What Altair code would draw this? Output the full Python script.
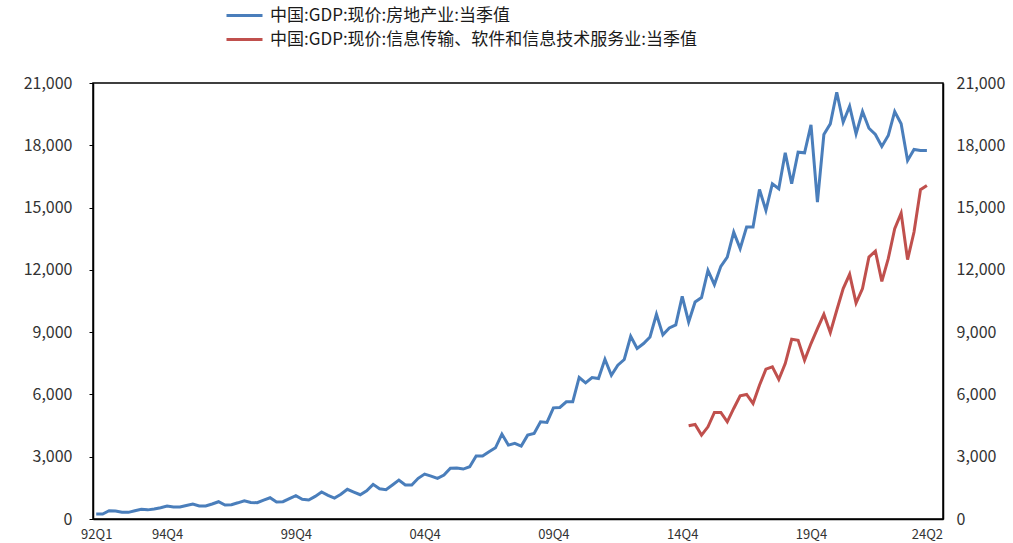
import altair as alt
import pandas as pd

# Quarterly categories 92Q1 .. 24Q2 (two empty slots follow on the axis)
START_YEAR = 1992
N_QUARTERS = 130
quarters = [f"{(START_YEAR + i // 4) % 100:02d}Q{i % 4 + 1}" for i in range(N_QUARTERS)]

name_re = "中国:GDP:现价:房地产业:当季值"
name_it = "中国:GDP:现价:信息传输、软件和信息技术服务业:当季值"

# 房地产业 当季值（亿元）, 92Q1 .. 24Q2
real_estate = [
    240, 240, 400, 390, 330, 320, 400, 467, 440, 480,
    544, 625, 577, 577, 650, 722, 625, 625, 722, 832,
    673, 690, 780, 880, 800, 784, 914, 1025, 818, 832,
    980, 1121, 950, 914, 1090, 1299, 1140, 1010, 1190, 1429,
    1300, 1169, 1360, 1669, 1457, 1410, 1640, 1876, 1635, 1635,
    1960, 2165, 2068, 1958, 2116, 2450, 2460, 2405, 2516, 3030,
    3030, 3237, 3430, 4089, 3559, 3641, 3511, 4040, 4122, 4680,
    4651, 5354, 5373, 5642, 5642, 6816, 6556, 6816, 6768, 7696,
    6926, 7407, 7682, 8802, 8211, 8451, 8769, 9860, 8870, 9200,
    9350, 10726, 9490, 10452, 10664, 11977, 11289, 12169, 12617, 13819,
    13021, 14060, 14060, 15873, 14863, 16147, 15907, 17638, 16147, 17667,
    17638, 18985, 15262, 18519, 19033, 20553, 19110, 19880, 18552, 19625,
    18822, 18519, 17941, 18470, 19625, 19033, 17268, 17797, 17749, 17749,
]

# 信息传输、软件和信息技术服务业 当季值（亿元）, 15Q1 .. 24Q2
info_start = "15Q1"
info_tech = [
    4488, 4555, 4040, 4440, 5132, 5132, 4680, 5325, 5930, 5998,
    5565, 6445, 7215, 7326, 6720, 7489, 8658, 8610, 7648, 8451,
    9173, 9860, 8980, 10053, 11097, 11785, 10404, 11097, 12617, 12905,
    11448, 12540, 13983, 14733, 12491, 13819, 15859, 16065,
]

tick_labels = ["92Q1", "94Q4", "99Q4", "04Q4", "09Q4", "14Q4", "19Q4", "24Q2"]
y_ticks = [0, 3000, 6000, 9000, 12000, 15000, 18000, 21000]

colors = ["#4a7ebb", "#c0504d"]

i0 = quarters.index(info_start)
df = pd.concat([
    pd.DataFrame({"idx": range(len(real_estate)),
                  "quarter": quarters[:len(real_estate)],
                  "series": name_re, "value": real_estate}),
    pd.DataFrame({"idx": range(i0, i0 + len(info_tech)),
                  "quarter": quarters[i0:i0 + len(info_tech)],
                  "series": name_it, "value": info_tech}),
], ignore_index=True)

FONT = "Noto Sans CJK SC"
label_array = "[" + ",".join(f"'{q}'" for q in quarters) + "]"

x_enc = alt.X(
    "idx:Q",
    scale=alt.Scale(domain=[-0.5, N_QUARTERS + 1.5], nice=False, zero=False),
    axis=alt.Axis(
        values=[quarters.index(t) for t in tick_labels],
        labelExpr=f"{label_array}[datum.value]",
        title=None, grid=False, ticks=False,
        domainColor="black", domainWidth=1.5,
        labelFont=FONT, labelFontSize=13, labelColor="#333333",
        labelPadding=9, labelAngle=0,
    ),
)

# Wide horizontal stroke as the legend swatch (path scaled by sqrt(size)/2)
color_enc = alt.Color(
    "series:N",
    scale=alt.Scale(domain=[name_re, name_it], range=colors),
    legend=alt.Legend(
        orient="none", legendX=143, legendY=-76, title=None,
        direction="vertical", symbolType="M-3,0H3", symbolSize=144,
        symbolStrokeWidth=3, labelFont=FONT, labelFontSize=17,
        labelColor="#1a1a1a", labelOffset=17, rowPadding=6,
        labelLimit=600,
    ),
)

y_scale = alt.Scale(domain=[0, 21000], nice=False, zero=True)

left = alt.Chart(df).transform_filter(
    alt.datum.series == name_re
).mark_line(strokeWidth=3).encode(
    x=x_enc,
    y=alt.Y("value:Q", scale=y_scale, axis=alt.Axis(
        orient="left", values=y_ticks, format=",.0f", title=None, grid=False,
        tickSize=4, tickColor="black", domainColor="black", domainWidth=1.5,
        labelFont=FONT, labelFontSize=16, labelColor="#333333", labelPadding=17,
    )),
    color=color_enc,
)

right = alt.Chart(df).transform_filter(
    alt.datum.series == name_it
).mark_line(strokeWidth=3).encode(
    x=x_enc,
    y=alt.Y("value:Q", scale=y_scale, axis=alt.Axis(
        orient="right", values=y_ticks, format=",.0f", title=None, grid=False,
        ticks=False, domainColor="black", domainWidth=1.5,
        labelFont=FONT, labelFontSize=16, labelColor="#333333", labelPadding=13,
    )),
    color=color_enc,
)

chart = alt.layer(left, right).resolve_scale(y="independent").properties(
    width=850,
    height=436,
    autosize="none",
    padding={"left": 93, "top": 83, "right": 70, "bottom": 24},
    background="white",
).configure_view(stroke="black", strokeWidth=1.5)

chart.save("out.html", embed_options={"renderer": "svg", "actions": False})
